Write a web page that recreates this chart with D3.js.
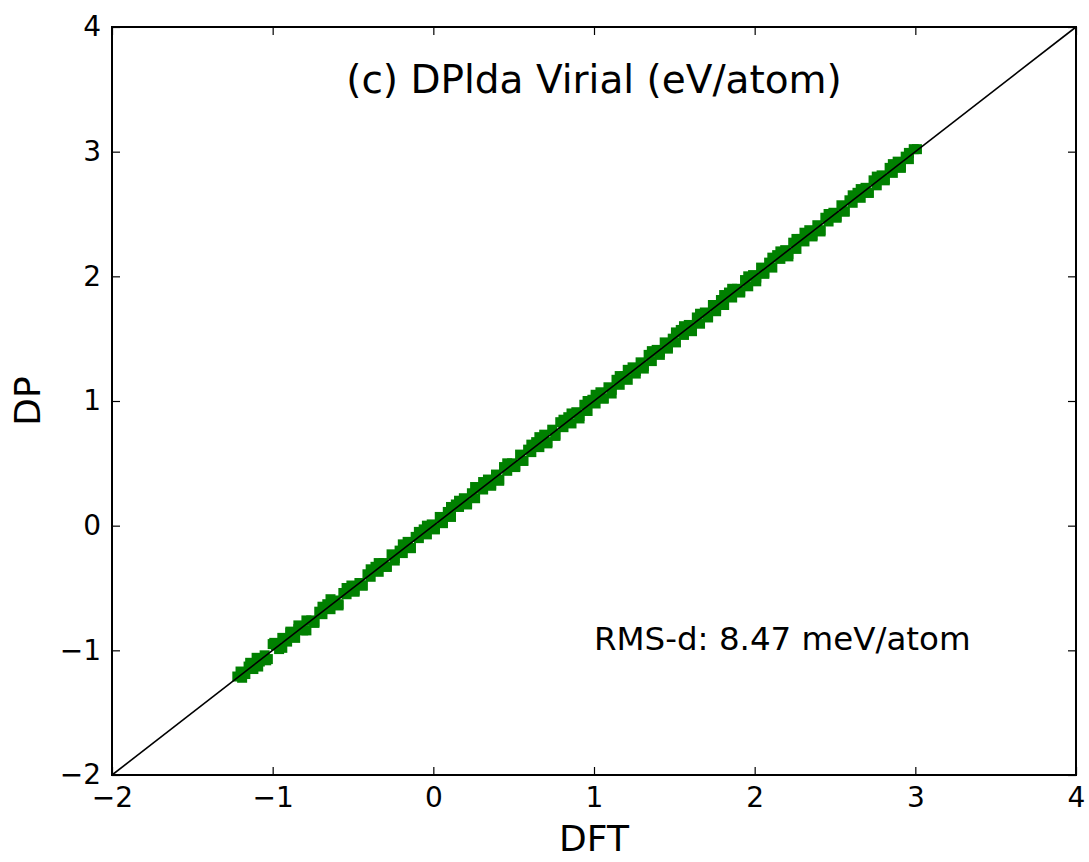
<!DOCTYPE html>
<html>
<head>
<meta charset="utf-8">
<title>DPlda Virial</title>
<script src="https://cdnjs.cloudflare.com/ajax/libs/d3/7.8.5/d3.min.js"></script>
<style>
  body { margin: 0; background: #fff; }
  svg text { font-family: 'DejaVu Sans', sans-serif; fill: #000; }
</style>
</head>
<body>
<script>
// DFT vs DP virial (eV/atom)
const dft = [
  -1.22, -1.20, -1.17, -1.15, -1.12, -1.10, -1.08, -1.05, -1.03, -1.00,
  -0.98, -0.96, -0.94, -0.91, -0.89, -0.86, -0.84, -0.81, -0.79, -0.76,
  -0.74, -0.71, -0.69, -0.66, -0.64, -0.61, -0.59, -0.56, -0.54, -0.51,
  -0.49, -0.46, -0.44, -0.41, -0.39, -0.36, -0.34, -0.31, -0.29, -0.26,
  -0.24, -0.21, -0.19, -0.16, -0.14, -0.11, -0.09, -0.06, -0.04, -0.01,
   0.01,  0.04,  0.06,  0.09,  0.11,  0.14,  0.16,  0.19,  0.21,  0.24,
   0.26,  0.29,  0.31,  0.34,  0.36,  0.39,  0.41,  0.44,  0.46,  0.49,
   0.51,  0.54,  0.56,  0.59,  0.61,  0.64,  0.66,  0.69,  0.71,  0.74,
   0.76,  0.79,  0.81,  0.84,  0.86,  0.89,  0.91,  0.94,  0.96,  0.99,
   1.01,  1.04,  1.06,  1.09,  1.11,  1.14,  1.16,  1.19,  1.21,  1.24,
   1.26,  1.29,  1.31,  1.34,  1.36,  1.39,  1.41,  1.44,  1.46,  1.49,
   1.51,  1.54,  1.56,  1.59,  1.61,  1.64,  1.66,  1.69,  1.71,  1.74,
   1.76,  1.79,  1.81,  1.84,  1.86,  1.89,  1.91,  1.94,  1.96,  1.99,
   2.01,  2.04,  2.06,  2.09,  2.11,  2.14,  2.16,  2.19,  2.21,  2.24,
   2.26,  2.29,  2.31,  2.34,  2.36,  2.39,  2.41,  2.44,  2.46,  2.49,
   2.51,  2.54,  2.56,  2.59,  2.61,  2.64,  2.66,  2.69,  2.71,  2.74,
   2.76,  2.79,  2.81,  2.84,  2.86,  2.89,  2.91,  2.94,  2.96,  2.99,
   3.01,
  // second pass of samples between the ones above
  -1.19, -1.14, -1.09, -1.04, -0.99, -0.94, -0.89, -0.84, -0.79, -0.74,
  -0.69, -0.64, -0.59, -0.54, -0.49, -0.44, -0.39, -0.34, -0.29, -0.24,
  -0.19, -0.14, -0.09, -0.04,  0.01,  0.06,  0.11,  0.16,  0.21,  0.26,
   0.31,  0.36,  0.41,  0.46,  0.51,  0.56,  0.61,  0.66,  0.71,  0.76,
   0.81,  0.86,  0.91,  0.96,  1.01,  1.06,  1.11,  1.16,  1.21,  1.26,
   1.31,  1.36,  1.41,  1.46,  1.51,  1.56,  1.61,  1.66,  1.71,  1.76,
   1.81,  1.86,  1.91,  1.96,  2.01,  2.06,  2.11,  2.16,  2.21,  2.26,
   2.31,  2.36,  2.41,  2.46,  2.51,  2.56,  2.61,  2.66,  2.71,  2.76,
   2.81,  2.86,  2.91,  2.96
];
const dp = [
  -1.21, -1.17, -1.19, -1.13, -1.15, -1.06, -1.09, -1.04, -1.07, -0.95,
  -0.96, -0.99, -0.90, -0.93, -0.86, -0.90, -0.83, -0.84, -0.76, -0.76,
  -0.78, -0.69, -0.71, -0.63, -0.67, -0.60, -0.63, -0.54, -0.55, -0.48,
  -0.52, -0.46, -0.48, -0.39, -0.41, -0.33, -0.37, -0.30, -0.33, -0.23,
  -0.26, -0.20, -0.22, -0.13, -0.18, -0.09, -0.10, -0.03, -0.07,  0.01,
  -0.02,  0.07,  0.04,  0.11,  0.07,  0.17,  0.15,  0.22,  0.18,  0.26,
   0.22,  0.30,  0.29,  0.37,  0.33,  0.41,  0.37,  0.47,  0.44,  0.50,
   0.48,  0.57,  0.52,  0.61,  0.59,  0.67,  0.63,  0.73,  0.67,  0.77,
   0.73,  0.83,  0.79,  0.87,  0.82,  0.91,  0.88,  0.97,  0.92,  1.01,
   0.98,  1.07,  1.02,  1.11,  1.09,  1.17,  1.13,  1.20,  1.17,  1.27,
   1.24,  1.31,  1.28,  1.37,  1.32,  1.41,  1.39,  1.47,  1.43,  1.50,
   1.47,  1.57,  1.53,  1.61,  1.59,  1.67,  1.62,  1.71,  1.68,  1.77,
   1.74,  1.81,  1.77,  1.87,  1.83,  1.90,  1.88,  1.97,  1.92,  2.01,
   1.99,  2.07,  2.03,  2.11,  2.07,  2.17,  2.14,  2.21,  2.18,  2.27,
   2.22,  2.30,  2.28,  2.37,  2.33,  2.41,  2.37,  2.47,  2.44,  2.51,
   2.48,  2.57,  2.52,  2.61,  2.59,  2.67,  2.63,  2.71,  2.67,  2.77,
   2.73,  2.81,  2.78,  2.87,  2.83,  2.92,  2.88,  2.96,  2.94,  3.02,
   3.02,
  -1.22, -1.10, -1.13, -1.08, -0.94, -0.98, -0.85, -0.80, -0.84, -0.77,
  -0.65, -0.59, -0.64, -0.50, -0.53, -0.48, -0.35, -0.30, -0.33, -0.28,
  -0.15, -0.18, -0.05,  0.00, -0.03,  0.02,  0.15,  0.20,  0.17,  0.31,
   0.35,  0.32,  0.36,  0.50,  0.47,  0.52,  0.65,  0.71,  0.66,  0.72,
   0.85,  0.90,  0.86,  1.00,  1.05,  1.02,  1.06,  1.20,  1.25,  1.22,
   1.26,  1.40,  1.37,  1.42,  1.55,  1.60,  1.56,  1.70,  1.67,  1.72,
   1.85,  1.90,  1.87,  2.00,  1.96,  2.02,  2.15,  2.20,  2.16,  2.30,
   2.35,  2.32,  2.36,  2.50,  2.47,  2.52,  2.65,  2.70,  2.67,  2.80,
   2.77,  2.90,  2.87,  2.99
];
const tickValues = [-2, -1, 0, 1, 2, 3, 4];
const title = '(c) DPlda Virial (eV/atom)';
const note = 'RMS-d: 8.47 meV/atom';

const W = 1089, H = 862;
const plot = {left: 112, right: 1076, top: 27, bottom: 775};

const svg = d3.select('body').append('svg')
  .attr('width', W)
  .attr('height', H);

svg.append('rect').attr('width', W).attr('height', H).attr('fill', '#fff');

const x = d3.scaleLinear().domain([-2, 4]).range([plot.left, plot.right]);
const y = d3.scaleLinear().domain([-2, 4]).range([plot.bottom, plot.top]);

const fmt = (d) => d < 0 ? '\u2212' + Math.abs(d) : String(d);

// points (square markers)
const m = 10;
svg.append('g')
  .selectAll('rect')
  .data(dft.map((d, i) => [d, dp[i]]))
  .enter()
  .append('rect')
  .attr('x', (d) => x(d[0]) - m / 2)
  .attr('y', (d) => y(d[1]) - m / 2)
  .attr('width', m)
  .attr('height', m)
  .attr('fill', '#008000');

// y = x line
svg.append('line')
  .attr('x1', x(-2)).attr('y1', y(-2))
  .attr('x2', x(4)).attr('y2', y(4))
  .attr('stroke', '#000')
  .attr('stroke-width', 1.6);

// axes, ticks pointing inward
const styleAxis = (g) => {
  g.select('.domain').remove();
  g.selectAll('.tick line').attr('stroke', '#000').attr('stroke-width', 1.2);
  g.selectAll('.tick text').attr('font-size', 28).attr('font-family', 'DejaVu Sans');
};

svg.append('g')
  .attr('transform', 'translate(0,' + plot.bottom + ')')
  .call(d3.axisBottom(x).tickValues(tickValues).tickSize(-8).tickPadding(12).tickFormat(fmt))
  .call(styleAxis);

svg.append('g')
  .attr('transform', 'translate(0,' + plot.top + ')')
  .call(d3.axisTop(x).tickValues(tickValues).tickSize(-8).tickFormat(''))
  .call(styleAxis);

svg.append('g')
  .attr('transform', 'translate(' + plot.left + ',0)')
  .call(d3.axisLeft(y).tickValues(tickValues).tickSize(-8).tickPadding(11).tickFormat(fmt))
  .call(styleAxis);

svg.append('g')
  .attr('transform', 'translate(' + plot.right + ',0)')
  .call(d3.axisRight(y).tickValues(tickValues).tickSize(-8).tickFormat(''))
  .call(styleAxis);

// frame
svg.append('rect')
  .attr('x', plot.left).attr('y', plot.top)
  .attr('width', plot.right - plot.left)
  .attr('height', plot.bottom - plot.top)
  .attr('fill', 'none')
  .attr('stroke', '#000')
  .attr('stroke-width', 2);

// texts
svg.append('text')
  .attr('x', (plot.left + plot.right) / 2)
  .attr('y', 93)
  .attr('text-anchor', 'middle')
  .attr('font-size', 39)
  .text(title);

svg.append('text')
  .attr('x', x(1))
  .attr('y', y(-1))
  .attr('font-size', 32.5)
  .text(note);

svg.append('text')
  .attr('x', (plot.left + plot.right) / 2)
  .attr('y', 851)
  .attr('text-anchor', 'middle')
  .attr('font-size', 36)
  .text('DFT');

svg.append('text')
  .attr('transform', 'translate(40,' + (plot.top + plot.bottom) / 2 + ') rotate(-90)')
  .attr('text-anchor', 'middle')
  .attr('font-size', 36)
  .text('DP');
</script>
</body>
</html>
